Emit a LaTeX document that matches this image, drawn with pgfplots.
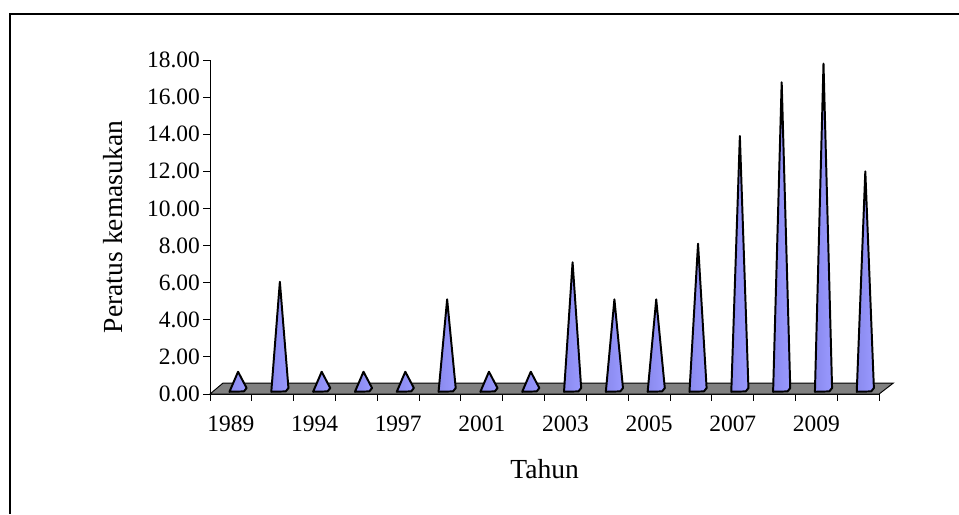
\documentclass[border=0pt]{standalone}
\usepackage{fontspec}
\setmainfont{Liberation Serif}
\usepackage{pgfplots}
\pgfplotsset{compat=1.18}

\definecolor{coneD}{HTML}{8A8AEE}
\definecolor{coneL}{HTML}{B4B4FF}
\definecolor{coneM}{HTML}{9999FF}
\definecolor{floorgray}{HTML}{808080}

% one 3D-looking cone per category: #1 = category index, #2 = value (tip)
\newcommand\cone[2]{%
  \pgfmathsetmacro\cnC{#1+0.17}%
  \pgfmathsetmacro\cnL{#1-0.035}%
  \pgfmathsetmacro\cnR{#1+0.375}%
  \pgfmathsetmacro\cnM{#1+0.31}%
  \edef\temp{\noexpand\addplot[conestyle] coordinates
    {(\cnL,0.12) (\cnC,#2) (\cnR,0.32) (\cnM,0.14)} -- cycle;}%
  \temp}

\begin{document}
\fontsize{12}{14}\selectfont
\begin{tikzpicture}
\useasboundingbox (0,0) rectangle (511.4pt,-274.1pt);
\draw[line width=1.1pt] (511.4pt,-7.5pt) -- (5.3pt,-7.5pt) -- (5.3pt,-274.1pt);
\begin{axis}[
    at={(112pt,-210.1pt)}, anchor=south west,
    scale only axis,
    width=356.8pt, height=178.1pt,
    clip=false,
    axis x line*=bottom, axis y line*=left,
    axis line style={line width=0.5pt},
    xmin=0.5, xmax=16.5,
    ymin=0, ymax=18,
    xtick={0.5,1.5,...,16.5},
    x tick label as interval,
    xticklabels={1989,{},1994,{},1997,{},2001,{},2003,{},2005,{},2007,{},2009,{}},
    ytick={0,2,...,18},
    tick align=outside,
    major tick length=3.7pt,
    tick style={black, line width=0.5pt},
    ticklabel style={font=\fontsize{12.5}{14}\selectfont},
    xticklabel style={yshift=-4pt},
    yticklabel style={xshift=2.5pt, /pgf/number format/.cd, fixed, fixed zerofill, precision=2, assume math mode=true},
    xlabel={Tahun},
    ylabel={Peratus kemasukan},
    every axis x label/.style={at={(axis description cs:0.5,0)}, anchor=center, yshift=-40pt, font=\fontsize{14.7}{17}\selectfont},
    every axis y label/.style={at={([xshift=-51.5pt]axis description cs:0,0.5)}, anchor=center, rotate=90, font=\fontsize{14.7}{17}\selectfont},
    conestyle/.style={draw=black, line width=1.05pt, line join=round,
        left color=coneD, middle color=coneL, right color=coneM},
]
% floor
\addplot[fill=floorgray, draw=black, line width=0.5pt]
    coordinates {(0.5,0) (16.5,0) (16.84,0.59) (0.81,0.59)} -- cycle;
% data
\cone{1}{1.2}
\cone{2}{6.05}
\cone{3}{1.2}
\cone{4}{1.2}
\cone{5}{1.2}
\cone{6}{5.1}
\cone{7}{1.2}
\cone{8}{1.2}
\cone{9}{7.1}
\cone{10}{5.1}
\cone{11}{5.1}
\cone{12}{8.1}
\cone{13}{13.9}
\cone{14}{16.8}
\cone{15}{17.8}
\cone{16}{12.0}
\end{axis}
\end{tikzpicture}
\end{document}
